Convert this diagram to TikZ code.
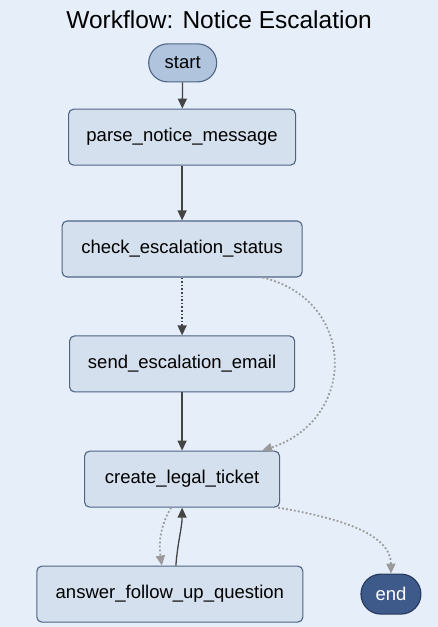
\documentclass[tikz,border=0pt]{standalone}
\usepackage{fontspec}
\setmainfont{Liberation Sans}
\usepackage{tikz}
\usetikzlibrary{arrows.meta,positioning}
\definecolor{bgfill}{HTML}{E6EFF9}
\definecolor{stepfill}{HTML}{D5E0EE}
\definecolor{stepdraw}{HTML}{4E6485}
\definecolor{termfill}{HTML}{B0C4DE}
\definecolor{endfill}{HTML}{3E5A8A}
\definecolor{enddraw}{HTML}{27385C}
\definecolor{edgegray}{HTML}{444444}
\definecolor{dotgray}{HTML}{9A9A9A}

\begin{document}
\begin{tikzpicture}[
  font=\fontsize{18.5}{22}\selectfont,
  stepbox/.style={draw=stepdraw, fill=stepfill, rounded corners=5pt, line width=1.1pt,
                  align=center, minimum height=56pt, minimum width=#1, inner sep=2pt},
  stepbox/.default=227pt,
  term/.style={draw=stepdraw, fill=termfill, rounded corners=19pt, line width=1.1pt,
               minimum height=38pt, minimum width=68pt, inner sep=2pt},
  arr/.style={-{Triangle[length=10pt,width=9pt]}, edgegray, line width=1.3pt},
  dotarr/.style={arr, dotgray, dash pattern=on 1.8pt off 2.2pt, line width=1.8pt}]
\fill[bgfill] (0,0) rectangle (438pt,-627pt);
\node[font=\fontsize{24.5}{28}\selectfont] (title) at (7.70,-0.70) {Workflow: Notice Escalation};
\node[term] (start) at (6.42,-2.21) {start};
\node[stepbox] (parse) at (6.40,-4.82) {parse\_notice\_message};
\node[stepbox=240pt] (check) at (6.40,-8.75) {check\_escalation\_status};
\node[stepbox=225pt] (send) at (6.40,-12.79) {send\_escalation\_email};
\node[stepbox=195pt] (create) at (6.40,-16.84) {create\_legal\_ticket};
\node[stepbox=266pt] (answer) at (5.97,-20.88) {answer\_follow\_up\_question};
\node[term, fill=endfill, draw=enddraw, text=white, minimum width=60pt,
      minimum height=40pt, rounded corners=20pt] (end) at (13.74,-20.88) {end};
\draw[arr] (start) -- (parse);
\draw[arr] (parse) -- (check);
\draw[arr, dash pattern=on 1.6pt off 2pt, line width=1.6pt] (check) -- (send);
\draw[arr] (send) -- (create);
\draw[dotarr] ([xshift=-40pt]check.south east) .. controls +(95pt,-23pt) and +(95pt,31pt) .. ([xshift=-18pt]create.north east);
\draw[dotarr] ([xshift=-11pt]create.south) .. controls +(-12pt,-20pt) and +(-3pt,20pt) .. ([xshift=-8pt]answer.north);
\draw[arr] ([xshift=6pt]answer.north) .. controls +(2pt,25pt) and +(0,-20pt) .. (create.south);
\draw[dotarr] ([xshift=-2pt]create.south east) .. controls +(60pt,-10pt) and +(0,40pt) .. (end.north);
\end{tikzpicture}
\end{document}
